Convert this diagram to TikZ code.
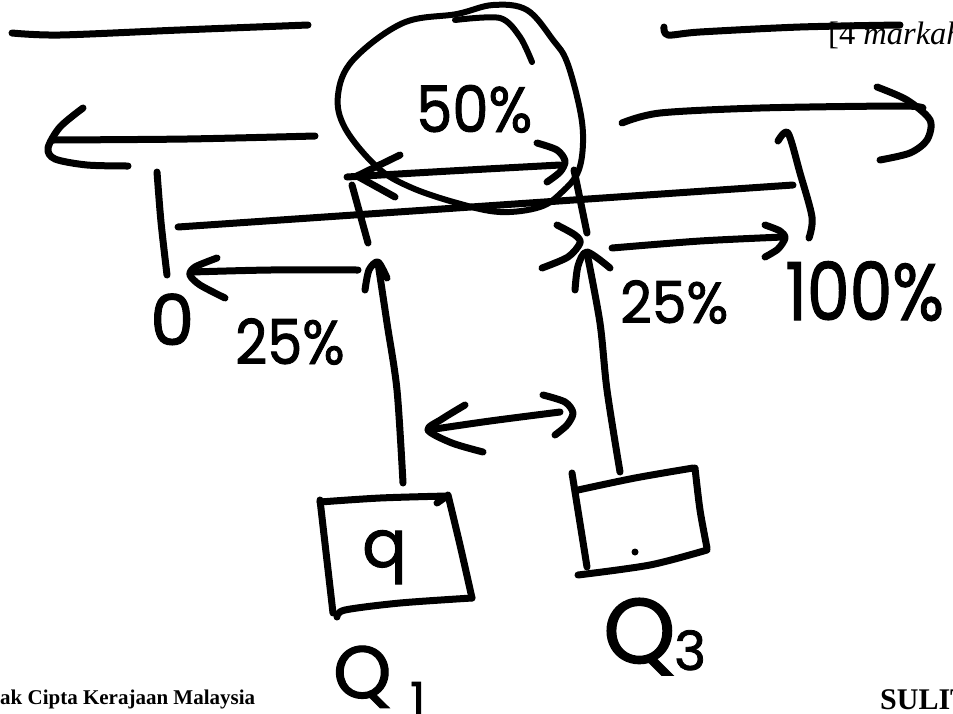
\documentclass[tikz,border=0pt]{standalone}
\usepackage{fontspec}
\setmainfont{Liberation Serif}
\newfontfamily\hand[FakeBold=1.5]{Poppins}
\begin{document}
\begin{tikzpicture}[x=1pt,y=-1pt,
  pen/.style={line width=7pt,line cap=round,line join=round},
  hw/.style={inner sep=0pt,anchor=base west,font=\hand},
  print/.style={inner sep=0pt,anchor=base west}]
\clip (0,0) rectangle (953,713);
\fill[white] (0,0) rectangle (953,713);

% printed page text
\node[print] (marks) at (828,44) {\fontsize{32.5}{32.5}\selectfont [4 \textit{markah}]};
\node[print] (copy) at (0,704) {\fontsize{21}{21}\selectfont\bfseries ak Cipta Kerajaan Malaysia};
\node[print] (sulit) at (880,709) {\fontsize{30}{30}\selectfont\bfseries SULIT};

% top strokes
\draw[pen] plot[smooth] coordinates {(12,33) (60,35) (180,30) (308,25)};
\draw[pen] plot[smooth] coordinates {(664,27) (668,35) (700,32) (800,27) (900,25)};

% blob around median
\draw[pen,line width=6pt] plot[smooth cycle,tension=0.6] coordinates {(493,5) (527,10) (553,40) (567,62) (580,110) (583,143) (578,172) (562,192) (540,207) (500,212) (457,203) (410,187) (377,167) (345,128) (338,95) (353,60) (403,23) (457,14)};
\draw[pen,line width=6pt] plot[smooth] coordinates {(455,20) (500,18) (520,37) (532,62)};

% left long arrow
\draw[pen] plot[smooth] coordinates {(315,136) (187,139) (53,140)};
\draw[pen] plot[smooth] coordinates {(83,108) (60,127) (48,148) (55,159) (87,165) (128,166)};
% right long arrow
\draw[pen] plot[smooth] coordinates {(622,123) (660,113) (760,108) (900,106) (923,108)};
\draw[pen] plot[smooth] coordinates {(877,87) (907,100) (930,120) (927,140) (910,153) (880,160)};

% number line and whiskers
\draw[pen] (178,227) -- (793,185);
\draw[pen] plot[smooth] coordinates {(157,172) (161,222) (167,275)};
\draw[pen] plot[smooth] coordinates {(778,141) (788,133) (800,173) (812,217) (809,238)};

% quartile ticks
\draw[pen] (352,185) -- (368,243);
\draw[pen] (574,170) -- (587,233);

% 50% double arrow
\draw[pen] plot[smooth] coordinates {(347,177) (450,171) (560,165)};
\draw[pen] (400,155) -- (357,176) -- (395,197);
\draw[pen] plot[smooth] coordinates {(537,143) (557,150) (565,161) (560,172) (547,182)};

% arrow to 0
\draw[pen] plot[smooth] coordinates {(358,270) (270,270) (192,272)};
\draw[pen] plot[smooth] coordinates {(217,258) (195,267) (190,275) (200,285) (225,298)};

% arrow to 100%
\draw[pen] plot[smooth] coordinates {(612,248) (700,241) (783,237)};
\draw[pen] plot[smooth] coordinates {(765,225) (780,231) (785,238) (778,249) (765,257)};

% stray > at Q3
\draw[pen] plot[smooth] coordinates {(557,225) (575,235) (580,243) (568,257) (542,268)};

% up arrow from Q1 box
\draw[pen] plot[smooth] coordinates {(378,263) (387,323) (397,390) (403,483)};
\draw[pen] plot[smooth] coordinates {(365,290) (369,270) (378,262) (387,278)};

% up arrow from Q3 box
\draw[pen] plot[smooth] coordinates {(587,253) (600,323) (607,390) (620,472)};
\draw[pen] plot[smooth] coordinates {(575,290) (578,266) (587,252) (610,268)};

% IQR double arrow
\draw[pen] plot[smooth] coordinates {(428,430) (490,421) (560,412)};
\draw[pen] plot[smooth] coordinates {(465,405) (442,419) (428,430) (452,443) (483,452)};
\draw[pen] plot[smooth] coordinates {(543,395) (565,402) (573,413) (567,425) (555,435)};

% Q1 box
\draw[pen] plot[smooth] coordinates {(320,502) (380,498) (447,496)};
\draw[pen] (437,503) -- (447,496);
\draw[pen] plot[smooth] coordinates {(448,495) (460,545) (472,598)};
\draw[pen] plot[smooth] coordinates {(472,598) (400,603) (345,610) (337,617)};
\draw[pen] (320,500) -- (333,613);

% Q3 box
\draw[pen] (572,473) -- (587,567);
\draw[pen] plot[smooth] coordinates {(578,490) (635,478) (693,468)};
\draw[pen] plot[smooth] coordinates {(695,468) (700,510) (707,548)};
\draw[pen] plot[smooth] coordinates {(707,550) (650,565) (578,575)};
\fill (635,552) circle (3.5pt);

% handwritten labels
\node[hw] (fifty) at (416,132) {\fontsize{64}{64}\selectfont\scalebox{0.9}[1]{50\%}};
\node[hw] (zero) at (150,345) {\fontsize{70}{70}\selectfont 0};
\node[hw] (qoneP) at (235,364) {\fontsize{62}{62}\selectfont\scalebox{0.9}[1]{25\%}};
\node[hw] (qthreeP) at (620,323) {\fontsize{58}{58}\selectfont\scalebox{0.95}[1]{25\%}};
\node[hw] (hundred) at (785,320) {\fontsize{80}{80}\selectfont\scalebox{0.85}[1]{100\%}};
\node[hw] (qval) at (362,567) {\fontsize{66}{66}\selectfont q};
\node[hw] (qone) at (333,698) {\fontsize{74}{74}\selectfont Q};
\node[hw] (qonesub) at (410,716) {\fontsize{47}{47}\selectfont 1};
\node[hw] (qthree) at (603,663) {\fontsize{92}{92}\selectfont Q};
\node[hw] (qthreesub) at (674,670) {\fontsize{54}{54}\selectfont 3};
\end{tikzpicture}
\end{document}
